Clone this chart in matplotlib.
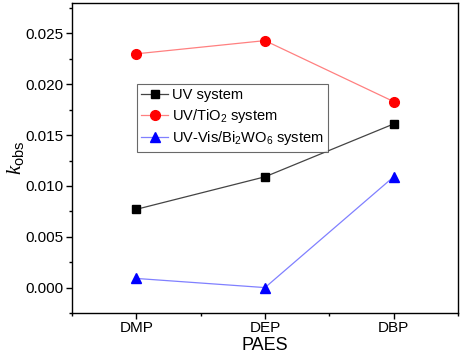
import matplotlib
matplotlib.use("Agg")
import matplotlib.pyplot as plt
from matplotlib.ticker import MultipleLocator

plt.rcParams["font.family"] = ["Liberation Sans", "DejaVu Sans"]
plt.rcParams["mathtext.fontset"] = "custom"
plt.rcParams["mathtext.rm"] = "Liberation Sans"
plt.rcParams["mathtext.it"] = "Liberation Serif:italic"

# data
paes = ["DMP", "DEP", "DBP"]
uv = [0.0077, 0.0109, 0.0161]
uv_tio2 = [0.0230, 0.0243, 0.0183]
uv_bi2wo6 = [0.0009, 0.0000, 0.0109]

x = [1, 2, 3]

fig = plt.figure(figsize=(4.61, 3.6), dpi=100)
ax = fig.add_axes([72 / 461, 1 - 313 / 360, (458 - 72) / 461, (313 - 3) / 360])

ax.plot(x, uv, color="#444444", lw=0.9, marker="s", ms=6, mfc="black", mec="black",
        label="UV system")
ax.plot(x, uv_tio2, color="#ff8080", lw=0.9, marker="o", ms=7, mfc="red", mec="red",
        label="UV/TiO$_2$ system")
ax.plot(x, uv_bi2wo6, color="#8080ff", lw=0.9, marker="^", ms=7, mfc="blue", mec="blue",
        label="UV-Vis/Bi$_2$WO$_6$ system")

ax.set_xlim(0.5, 3.5)
ax.set_ylim(-0.0025, 0.028)
ax.set_xticks(x)
ax.set_xticklabels(paes)
ax.xaxis.set_minor_locator(MultipleLocator(0.5))
ax.yaxis.set_major_locator(MultipleLocator(0.005))
ax.yaxis.set_minor_locator(MultipleLocator(0.0025))
ax.yaxis.set_major_formatter(matplotlib.ticker.FormatStrFormatter("%.3f"))
ax.tick_params(which="major", direction="out", length=4, width=1, labelsize=11, pad=2)
ax.tick_params(which="minor", direction="out", length=2.5, width=1)
for s in ax.spines.values():
    s.set_linewidth(1)

ax.set_xlabel("PAES", fontsize=13, labelpad=1)
ax.set_ylabel(r"$k_{\rm obs}$", fontsize=15, labelpad=0)

leg = ax.legend(loc="upper left", bbox_to_anchor=((137 - 72) / 386, (313 - 84) / 310),
                frameon=True, fancybox=False, edgecolor="#444444", fontsize=10.5,
                handlelength=1.8, borderpad=0.3, labelspacing=0.3, handletextpad=0.3,
                borderaxespad=0)
leg.get_frame().set_linewidth(0.8)

fig.savefig("out.png", dpi=100)
